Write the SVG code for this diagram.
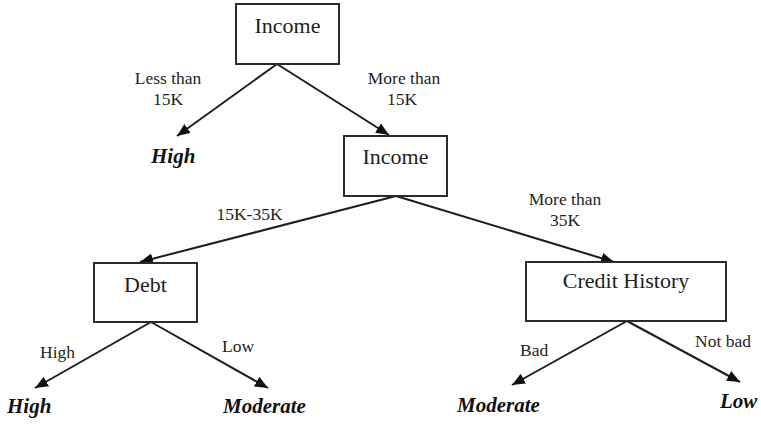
<svg xmlns="http://www.w3.org/2000/svg" width="761" height="424" viewBox="0 0 761 424" font-family="Liberation Serif, Times New Roman, serif">
  <style>
    .box { fill: #ffffff; stroke: #2a2a2a; stroke-width: 2; }
    .edge { stroke: #1e1e1e; stroke-width: 2; fill: none; }
  </style>
  <defs>
    <marker id="arrow" markerUnits="userSpaceOnUse" markerWidth="14" markerHeight="12" refX="13" refY="5.5" orient="auto">
      <path d="M0,0 L13,5.5 L0,11 Z" fill="#111111"/>
    </marker>
  </defs>
  <rect width="761" height="424" fill="#ffffff"/>

  <!-- branches -->
  <g id="connectors">
    <line class="edge" x1="277" y1="64" x2="177" y2="136" marker-end="url(#arrow)"/>
    <line class="edge" x1="277" y1="64" x2="389" y2="135" marker-end="url(#arrow)"/>
    <line class="edge" x1="396" y1="196" x2="140" y2="262" marker-end="url(#arrow)"/>
    <line class="edge" x1="396" y1="196" x2="614" y2="262" marker-end="url(#arrow)"/>
    <line class="edge" x1="151" y1="322" x2="35" y2="388" marker-end="url(#arrow)"/>
    <line class="edge" x1="151" y1="322" x2="268" y2="388" marker-end="url(#arrow)"/>
    <line class="edge" x1="627" y1="321" x2="512" y2="385" marker-end="url(#arrow)"/>
    <line class="edge" x1="627" y1="321" x2="740" y2="382" marker-end="url(#arrow)"/>
  </g>

  <!-- branch labels -->
  <g id="edge-labels" fill="#1e1e1e">
    <text x="168" y="84" text-anchor="middle" style="font-family:'Times New Roman','Liberation Serif',serif;font-size:17.5px">Less than</text>
    <text x="168" y="105" text-anchor="middle" style="font-family:'Times New Roman','Liberation Serif',serif;font-size:17.5px">15K</text>
    <text x="404" y="84" text-anchor="middle" style="font-family:'Times New Roman','Liberation Serif',serif;font-size:17.5px">More than</text>
    <text x="402" y="105" text-anchor="middle" style="font-family:'Times New Roman','Liberation Serif',serif;font-size:17.5px">15K</text>
    <text x="249.5" y="220" text-anchor="middle" style="font-family:'Times New Roman','Liberation Serif',serif;font-size:17.5px">15K-35K</text>
    <text x="565" y="205" text-anchor="middle" style="font-family:'Times New Roman','Liberation Serif',serif;font-size:17.5px">More than</text>
    <text x="565" y="226" text-anchor="middle" style="font-family:'Times New Roman','Liberation Serif',serif;font-size:17.5px">35K</text>
    <text x="40" y="358" style="font-family:'Times New Roman','Liberation Serif',serif;font-size:17.5px">High</text>
    <text x="222" y="352" style="font-family:'Times New Roman','Liberation Serif',serif;font-size:17.5px">Low</text>
    <text x="520" y="356" style="font-family:'Times New Roman','Liberation Serif',serif;font-size:17.5px">Bad</text>
    <text x="695" y="347" style="font-family:'Times New Roman','Liberation Serif',serif;font-size:17.5px">Not bad</text>
  </g>

  <!-- decision nodes -->
  <g id="income-root">
    <rect class="box" x="236" y="4" width="103" height="60"/>
    <text x="287.5" y="33" text-anchor="middle" fill="#1e1e1e" style="font-family:'Times New Roman','Liberation Serif',serif;font-size:22px">Income</text>
  </g>
  <g id="income-split">
    <rect class="box" x="344" y="136" width="103" height="60"/>
    <text x="395.5" y="164" text-anchor="middle" fill="#1e1e1e" style="font-family:'Times New Roman','Liberation Serif',serif;font-size:22px">Income</text>
  </g>
  <g id="debt">
    <rect class="box" x="94" y="263" width="103" height="59"/>
    <text x="145.5" y="292" text-anchor="middle" fill="#1e1e1e" style="font-family:'Times New Roman','Liberation Serif',serif;font-size:22px">Debt</text>
  </g>
  <g id="credit-history">
    <rect class="box" x="526" y="262" width="200" height="59"/>
    <text x="626" y="288" text-anchor="middle" fill="#1e1e1e" style="font-family:'Times New Roman','Liberation Serif',serif;font-size:22px">Credit History</text>
  </g>

  <!-- outcome leaves -->
  <g id="leaf-high-top">
    <text x="151" y="163" fill="#111111" style="font-family:'Times New Roman','Liberation Serif',serif;font-size:21px;font-weight:bold;font-style:italic">High</text>
  </g>
  <g id="leaf-high-debt">
    <text x="7" y="413" fill="#111111" style="font-family:'Times New Roman','Liberation Serif',serif;font-size:21px;font-weight:bold;font-style:italic">High</text>
  </g>
  <g id="leaf-moderate-debt">
    <text x="223" y="413" fill="#111111" style="font-family:'Times New Roman','Liberation Serif',serif;font-size:21px;font-weight:bold;font-style:italic">Moderate</text>
  </g>
  <g id="leaf-moderate-credit">
    <text x="457" y="412" fill="#111111" style="font-family:'Times New Roman','Liberation Serif',serif;font-size:21px;font-weight:bold;font-style:italic">Moderate</text>
  </g>
  <g id="leaf-low-credit">
    <text x="720" y="408" fill="#111111" style="font-family:'Times New Roman','Liberation Serif',serif;font-size:21px;font-weight:bold;font-style:italic">Low</text>
  </g>
</svg>
